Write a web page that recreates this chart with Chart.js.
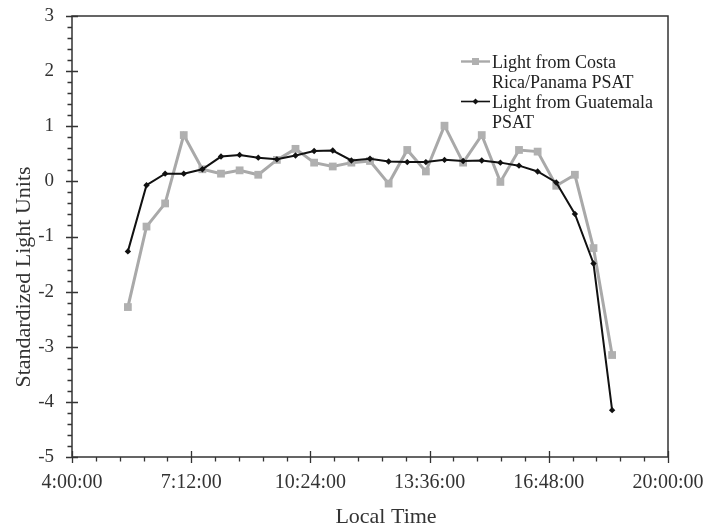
<!DOCTYPE html>
<html><head><meta charset="utf-8">
<script src="https://cdn.jsdelivr.net/npm/chart.js@4"></script>
<style>html,body{margin:0;padding:0;background:#fff}canvas{display:block}</style>
</head><body>
<canvas id="c" width="704" height="529"></canvas>
<script>
const times = ["5:30:00","6:00:00","6:30:00","7:00:00","7:30:00","8:00:00","8:30:00","9:00:00","9:30:00",
  "10:00:00","10:30:00","11:00:00","11:30:00","12:00:00","12:30:00","13:00:00","13:30:00","14:00:00",
  "14:30:00","15:00:00","15:30:00","16:00:00","16:30:00","17:00:00","17:30:00","18:00:00","18:30:00"];
const costaRica = [-2.28,-0.82,-0.40,0.84,0.22,0.14,0.20,0.12,0.39,0.59,0.34,0.27,0.34,0.37,-0.04,0.57,0.18,1.01,
  0.34,0.84,-0.01,0.57,0.54,-0.08,0.12,-1.21,-3.15];
const guatemala = [-1.27,-0.07,0.14,0.14,0.22,0.45,0.48,0.43,0.40,0.47,0.55,0.56,0.38,0.41,0.36,0.35,0.35,0.39,
  0.37,0.38,0.34,0.285,0.18,-0.02,-0.59,-1.49,-4.15];
const xTickLabels = ["4:00:00","7:12:00","10:24:00","13:36:00","16:48:00","20:00:00"];
const yTickValues = [-5,-4,-3,-2,-1,0,1,2,3];
const seriesLabels = ["Light from Costa\nRica/Panama PSAT","Light from Guatemala\nPSAT"];
const xTitle = "Local Time";
const yTitle = "Standardized Light Units";

const FONT = '"Liberation Serif","DejaVu Serif",serif';
function toMinutes(s){const p=s.split(':').map(Number);return p[0]*60+p[1]+(p[2]||0)/60;}
const xTickMinutes = xTickLabels.map(toMinutes);

const deco = {
  id:'deco',
  afterDraw(chart){
    const {ctx, chartArea:a, scales:{x,y}} = chart;
    ctx.save();
    ctx.strokeStyle='#333'; ctx.lineWidth=1.5;
    ctx.strokeRect(a.left, a.top, a.right-a.left, a.bottom-a.top);
    ctx.lineWidth=1.3;
    ctx.beginPath();
    const yMin=yTickValues[0], yMax=yTickValues[yTickValues.length-1];
    const ny=(yMax-yMin)*5;
    for(let i=0;i<=ny;i++){
      const v=yMin+i*(yMax-yMin)/ny; const py=Math.round(y.getPixelForValue(v))+0.5; const major=i%5===0;
      ctx.moveTo(major?a.left-6:a.left-4.5, py); ctx.lineTo(major?a.left+6:a.left, py);
    }
    const nx=(xTickMinutes.length-1)*5, xmin=xTickMinutes[0], xmax=xTickMinutes[xTickMinutes.length-1];
    for(let i=0;i<=nx;i++){
      const v=xmin+i*(xmax-xmin)/nx; const px=Math.round(x.getPixelForValue(v))+0.5; const major=i%5===0;
      ctx.moveTo(px, major?a.bottom-6:a.bottom); ctx.lineTo(px, major?a.bottom+6:a.bottom+4.5);
    }
    ctx.stroke();
    // legend
    const lx0=461, lx1=490, tx=492, base0=67.5, lh=20;
    let line=0;
    ctx.font='18px '+FONT; ctx.textAlign='left'; ctx.textBaseline='alphabetic';
    chart.data.datasets.forEach((ds)=>{
      const parts=ds.label.split('\n');
      const my=base0+line*lh-6;
      ctx.strokeStyle=ds.borderColor; ctx.lineWidth=ds.borderWidth*0.8;
      ctx.beginPath(); ctx.moveTo(lx0,my); ctx.lineTo(lx1,my); ctx.stroke();
      const cx=(lx0+lx1)/2;
      ctx.fillStyle=ds.pointBackgroundColor;
      ctx.beginPath();
      if(ds.pointStyle==='rect'){ctx.rect(cx-3.5,my-3.5,7,7);} else {ctx.moveTo(cx,my-3);ctx.lineTo(cx+3,my);ctx.lineTo(cx,my+3);ctx.lineTo(cx-3,my);ctx.closePath();}
      ctx.fill();
      ctx.fillStyle='#222';
      parts.forEach((t,j)=>ctx.fillText(t,tx,base0+(line+j)*lh));
      line+=parts.length;
    });
    // axis titles
    ctx.fillStyle='#333'; ctx.font='22px '+FONT; ctx.textAlign='center'; ctx.textBaseline='middle';
    ctx.fillText(xTitle, 386, 517);
    ctx.translate(24, 277); ctx.rotate(-Math.PI/2);
    ctx.fillText(yTitle, 0, 0);
    ctx.restore();
  }
};

function zeroPad(s){s.paddingTop=0;s.paddingBottom=0;s.paddingLeft=0;s.paddingRight=0;}

new Chart(document.getElementById('c'), {
  type:'line',
  data:{
    datasets:[
      {label:seriesLabels[0], data:times.map((t,i)=>({x:toMinutes(t),y:costaRica[i]})),
       borderColor:'#a9a9a9', backgroundColor:'#a9a9a9', pointBackgroundColor:'#b0b0b0', pointBorderWidth:0,
       borderWidth:3, pointStyle:'rect', pointRadius:5.5, order:2, tension:0},
      {label:seriesLabels[1], data:times.map((t,i)=>({x:toMinutes(t),y:guatemala[i]})),
       borderColor:'#111', backgroundColor:'#111', pointBackgroundColor:'#111', pointBorderWidth:0,
       borderWidth:2, pointStyle:'rectRot', pointRadius:3.2, order:1, tension:0}
    ]
  },
  options:{
    responsive:false, animation:false, events:[],
    layout:{padding:{left:0,right:36,top:16,bottom:0}},
    plugins:{legend:{display:false}, tooltip:{enabled:false}},
    scales:{
      x:{type:'linear', min:xTickMinutes[0], max:xTickMinutes[xTickMinutes.length-1],
        grid:{display:false, drawTicks:false}, border:{display:false},
        afterBuildTicks:(s)=>{s.ticks=xTickMinutes.map(v=>({value:v}));},
        afterFit:(s)=>{s.height=72;zeroPad(s);},
        ticks:{autoSkip:false, maxRotation:0, padding:14, color:'#333', font:{family:FONT,size:20},
          callback:(v)=>{const i=xTickMinutes.indexOf(v);return i>=0?xTickLabels[i]:'';}}},
      y:{min:yTickValues[0], max:yTickValues[yTickValues.length-1],
        grid:{display:false, drawTicks:false}, border:{display:false},
        afterBuildTicks:(s)=>{s.ticks=yTickValues.map(v=>({value:v}));},
        afterFit:(s)=>{s.width=72;zeroPad(s);},
        ticks:{padding:18, color:'#333', font:{family:FONT,size:19}}}
    }
  },
  plugins:[deco]
});
</script>
</body></html>
